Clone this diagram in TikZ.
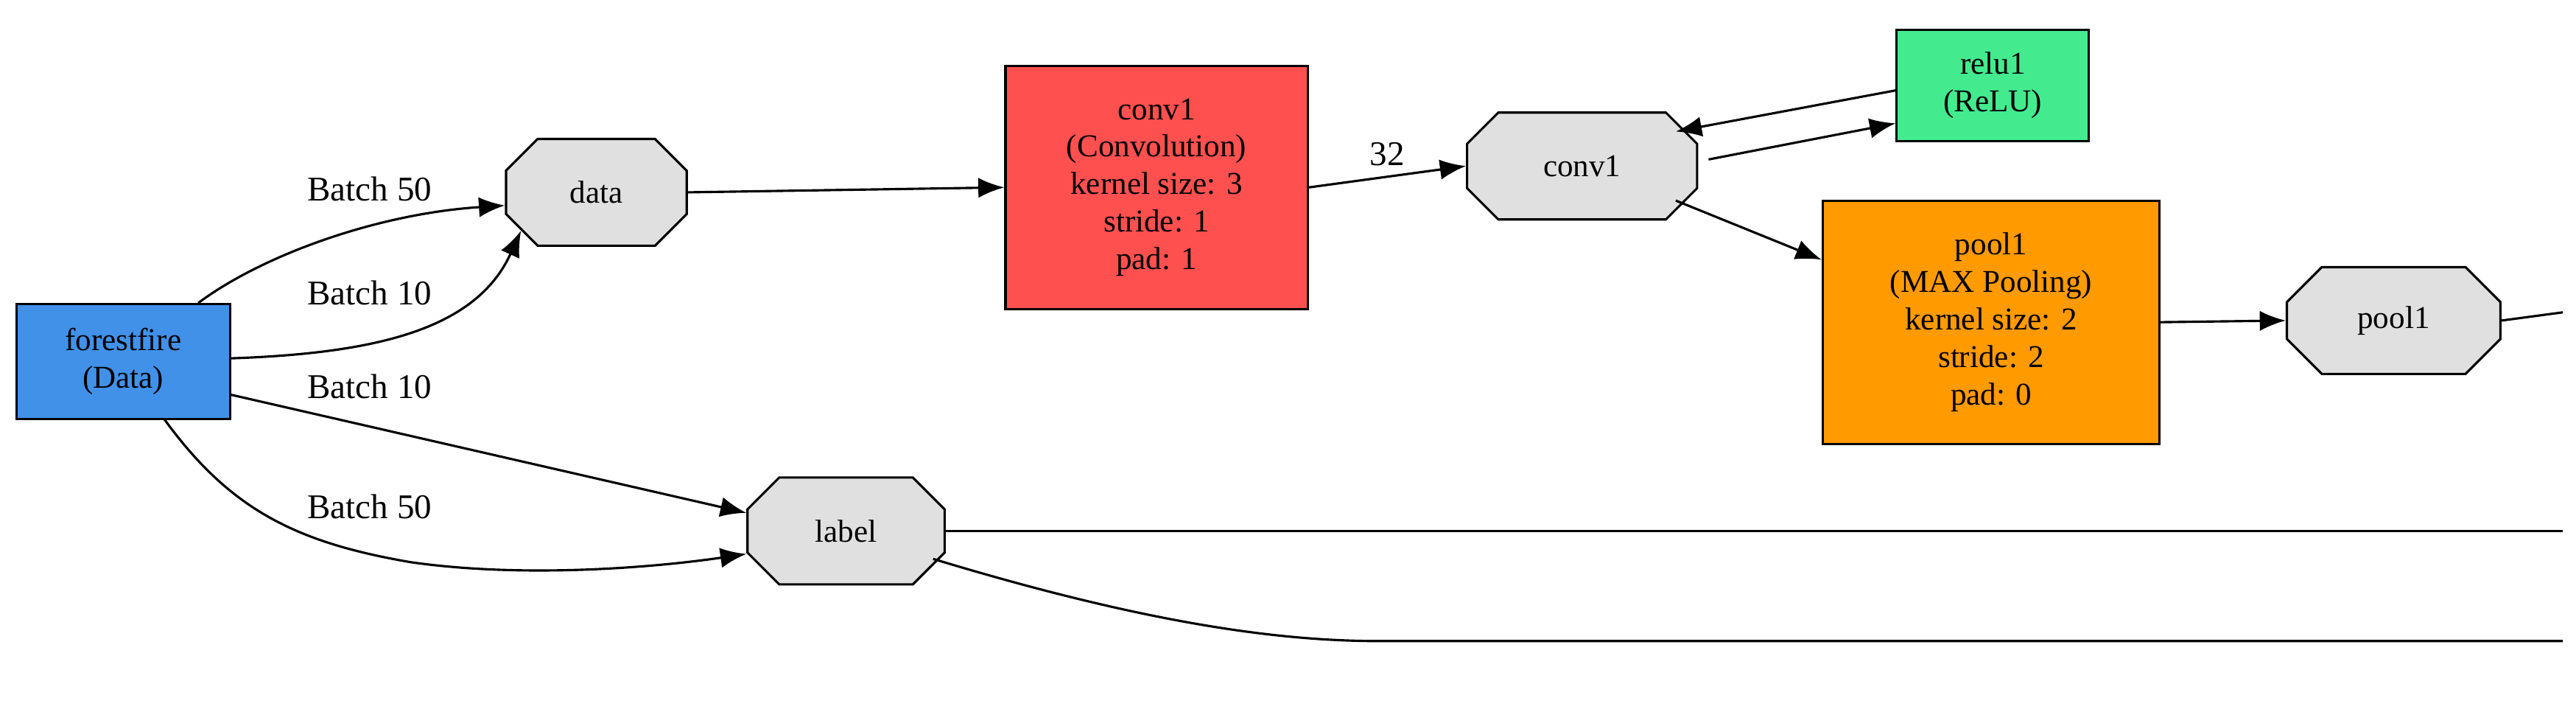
\documentclass[tikz,border=0pt]{standalone}
\usepackage{fontspec}
\setmainfont{Liberation Serif}
\usetikzlibrary{shapes.misc,arrows.meta}
\definecolor{cblue}{HTML}{4191E9}
\definecolor{cred}{HTML}{FF5050}
\definecolor{cgreen}{HTML}{43EB8E}
\definecolor{corange}{HTML}{FF9A00}
\definecolor{cgray}{HTML}{E0E0E0}
\begin{document}
\begin{tikzpicture}[x=0.02cm,y=-0.02cm,font=\fontsize{11}{13}\selectfont,
 box/.style={draw,thick,align=center,inner sep=2pt},
 oct/.style={draw,fill=cgray,chamfered rectangle,chamfered rectangle xsep=0.35cm,chamfered rectangle ysep=0.25cm,inner sep=0pt,thick},
 e/.style={thick,-{Latex[length=9pt,width=7pt]}},
 lbl/.style={font=\fontsize{12}{14}\selectfont}]
\useasboundingbox (0,0) rectangle (1568,433);
\node[box,fill=cblue,minimum width=2.6cm,minimum height=1.4cm] (ff) at (75,220) {forestfire\\(Data)};
\node[oct,minimum width=2.2cm,minimum height=1.3cm] (data) at (363,117) {data};
\node[box,fill=cred,minimum width=3.68cm,minimum height=2.96cm] (c1) at (704,114) {conv1\\(Convolution)\\kernel size: 3\\stride: 1\\pad: 1};
\node[oct,minimum width=2.8cm,minimum height=1.3cm] (c1o) at (963,101) {conv1};
\node[box,fill=cgreen,minimum width=2.34cm,minimum height=1.36cm] (relu) at (1213,52) {relu1\\(ReLU)};
\node[box,fill=corange,minimum width=4.1cm,minimum height=2.96cm] (p1) at (1212,196) {pool1\\(MAX Pooling)\\kernel size: 2\\stride: 2\\pad: 0};
\node[oct,minimum width=2.6cm,minimum height=1.3cm] (p1o) at (1457,195) {pool1};
\node[oct,minimum width=2.4cm,minimum height=1.3cm] (lab) at (515,323) {label};
\coordinate (r1) at (1560,190);
\coordinate (r2) at (1560,323);
\coordinate (r3) at (1560,390);
\draw[e] (ff.north east) ++(-20,0) .. controls (160,155) and (230,130) .. (data.west |- 0,125);
\node[lbl] at (225,115) {Batch 50};
\draw[e] (140,218) .. controls (230,215) and (290,200) .. (data.south west);
\node[lbl] at (225,178) {Batch 10};
\draw[e] (140,240) -- (lab.west |- 0,312);
\node[lbl] at (225,235) {Batch 10};
\draw[e] (100,255) .. controls (140,310) and (180,330) .. (250,342) .. controls (320,352) and (400,345) .. (lab.west |- 0,337);
\node[lbl] at (225,308) {Batch 50};
\draw[e] (data.east) -- (c1.west);
\draw[e] (c1.east) -- node[above,lbl] {32} (c1o.west);
\draw[e] (1040,97) -- (relu.west |- 0,75);
\draw[e] (relu.west |- 0,55) -- (1020,80);
\draw[e] (1020,122) -- (p1.north west |- 0,158);
\draw[e] (p1.east) -- (p1o.west);
\draw[thick] (p1o.east) -- (r1);
\draw[thick] (lab.east) -- (r2);
\draw[thick] (568,340) .. controls (700,380) and (780,390) .. (840,390) -- (r3);
\end{tikzpicture}
\end{document}
